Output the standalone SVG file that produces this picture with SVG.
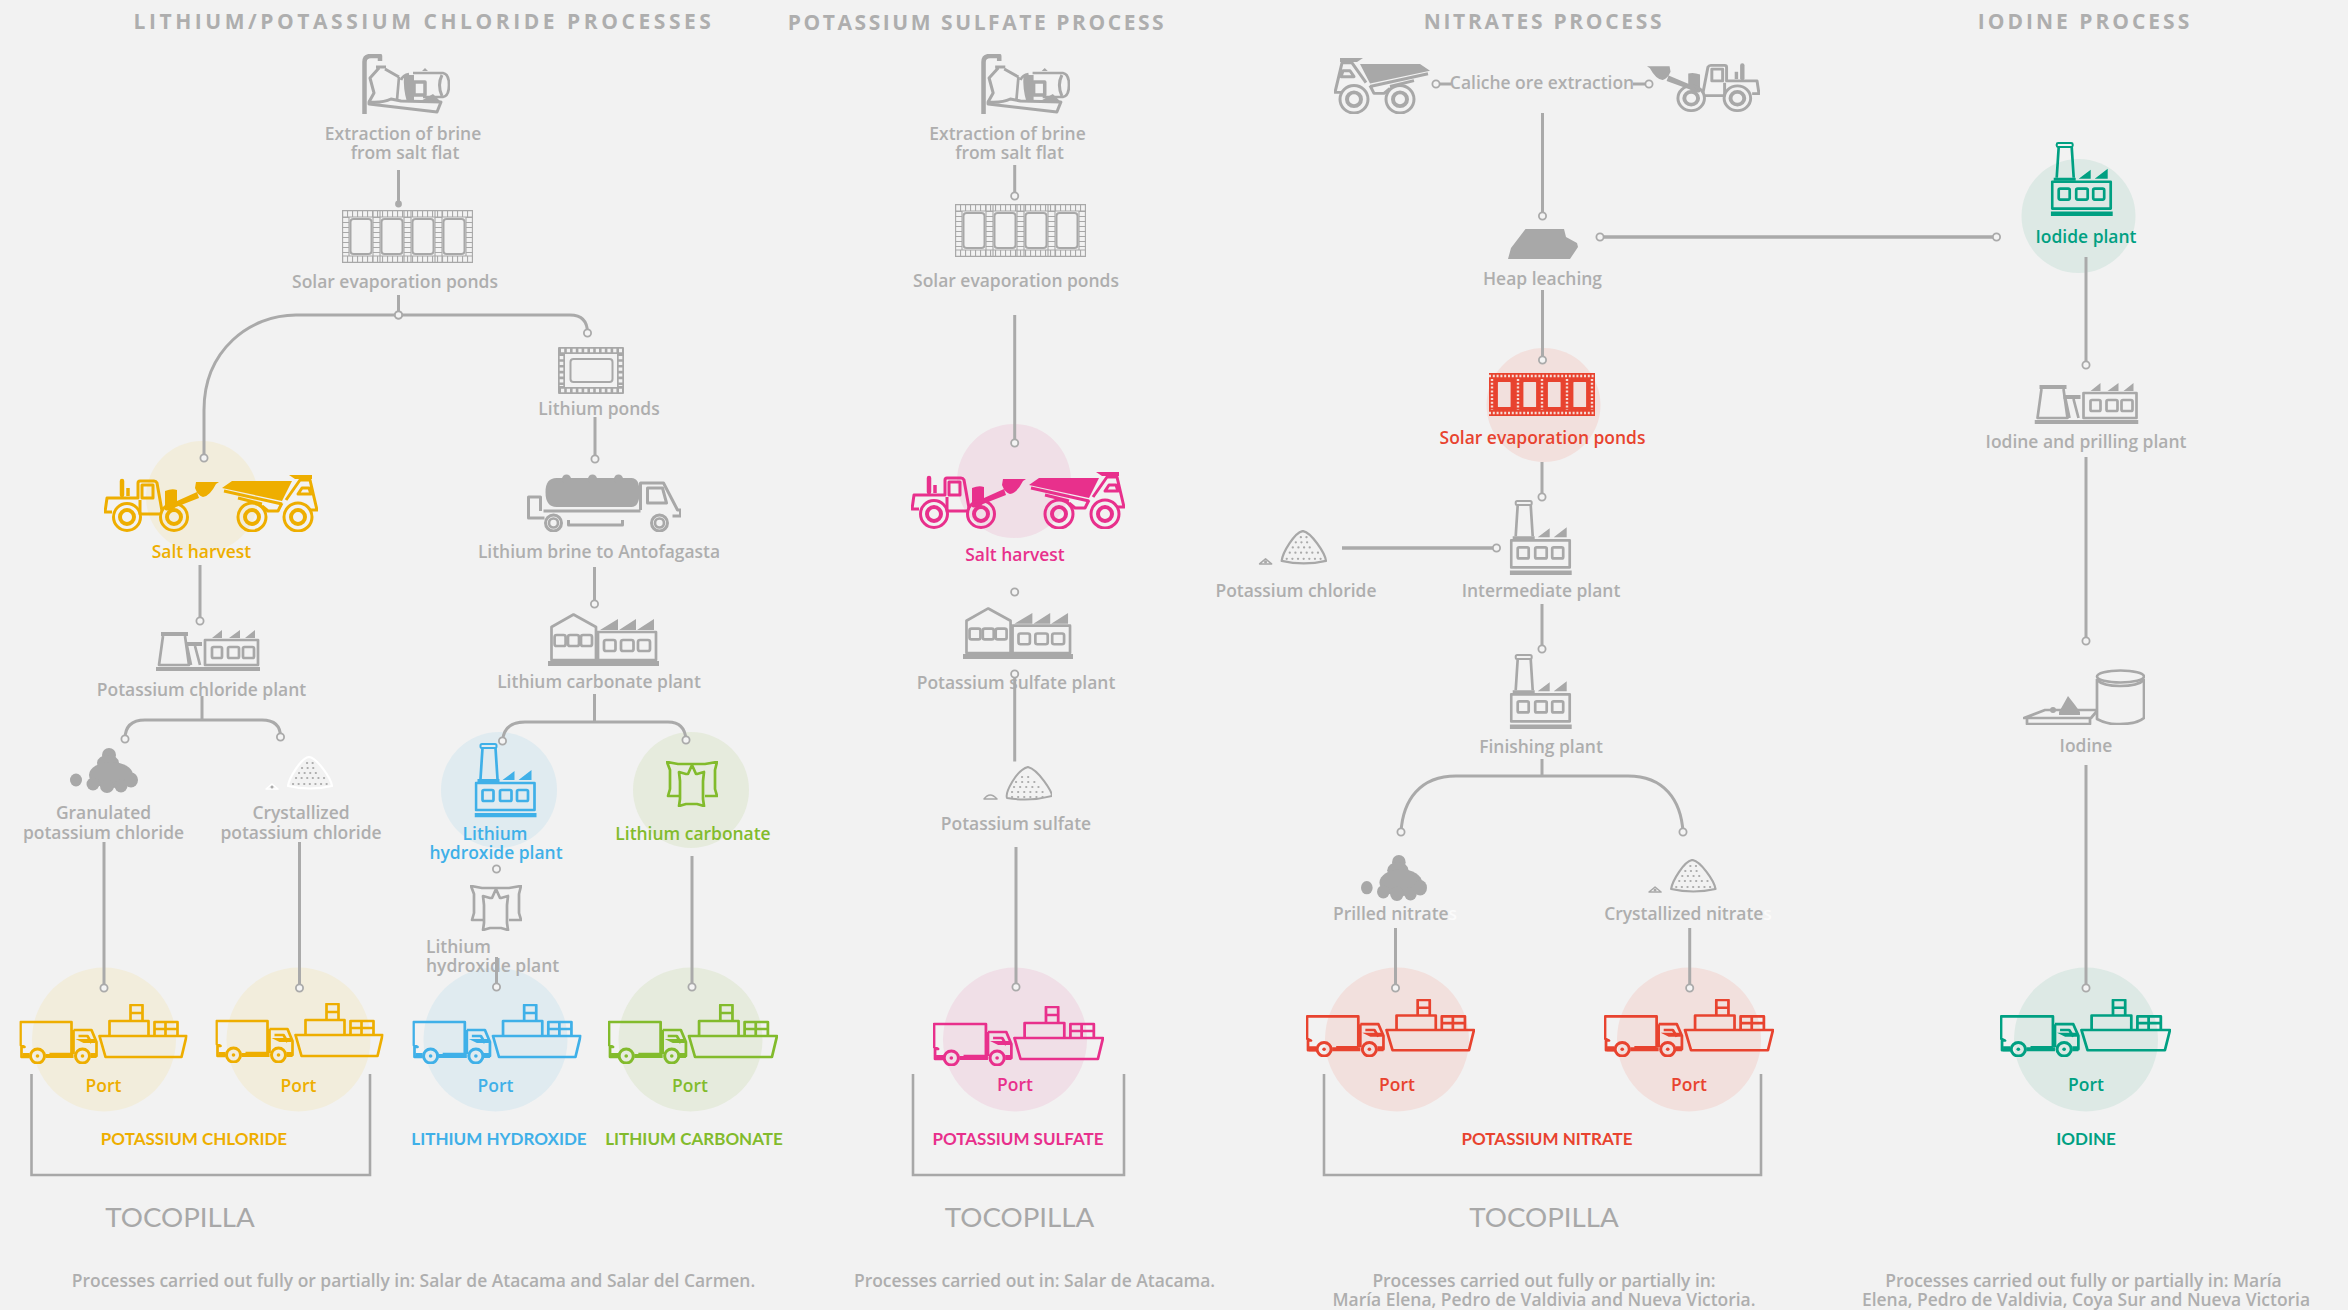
<svg xmlns="http://www.w3.org/2000/svg" width="2348" height="1310" viewBox="0 0 2348 1310">
<style>
text{font-family:"Open Sans","Noto Sans","Liberation Sans",sans-serif;font-weight:600;font-size:17.45px;fill:#aeaeae;text-anchor:middle}
.t{font-weight:700;font-size:21px;letter-spacing:3px}
.b{font-family:Lato,"Open Sans",sans-serif;font-weight:700;font-size:17px}
.c{font-family:Lato,"Open Sans",sans-serif;font-weight:400;font-size:27.700px;fill:#a8a8a8}
.o{fill:none;stroke:currentColor;stroke-width:2.7;stroke-linejoin:round}
.f{fill:currentColor;stroke:none}
.g{color:#a8a8a8}
.l{fill:none;stroke:#aaa;stroke-width:3}
.h{stroke-width:3.6}
.br{fill:none;stroke:#a8a8a8;stroke-width:2.6}
.dot{fill:#f4f4f4;stroke:#aaa;stroke-width:1.8}
.y{color:#eeae00}.yt{fill:#eeae00}
.p{color:#e8308c}.pt{fill:#e8308c}
.u{color:#3fb0e8}.ut{fill:#3fb0e8}
.n{color:#82bb2c}.nt{fill:#82bb2c}
.r{color:#e8432f}.rt{fill:#e8432f}
.e{color:#00a082}.et{fill:#00a082}
.hy{fill:#f2eddc}.hp{fill:#f0dfe7}.hu{fill:#e0ebf0}.hn{fill:#e6ebdd}.hr{fill:#f2e0dd}.he{fill:#dde9e5}
</style>
<defs>
<marker id="m" markerUnits="userSpaceOnUse" markerWidth="12" markerHeight="12" refX="6" refY="6" overflow="visible"><circle class="dot" cx="6" cy="6" r="3.6"/></marker>
<marker id="mf" markerUnits="userSpaceOnUse" markerWidth="12" markerHeight="12" refX="6" refY="6"><circle cx="6" cy="6" r="3.4" fill="#aaa"/></marker>
<symbol id="pump" viewBox="0 0 89 60" preserveAspectRatio="none">
<path class="o" style="stroke-width:4.500" d="M3.500,60V8Q3.500,2 10,2H19V7"/>
<path class="o" style="stroke-width:3" d="M15,13H25M18,14L9,24L13,39L8,48M24,15L38,23"/>
<path class="o" d="M38,23L36,46M48,20Q42,21 40,26M52,19H82Q88,20 88,31Q88,42 82,43H62"/>
<path class="o" style="stroke-width:3" d="M81,21Q76,31 81,42"/>
<path class="f" d="M43,21H53V48H46Q42,35 43,21ZM64,14L67,17H61Z"/>
<path class="o" style="stroke-width:3.500" d="M53,28H64V41H53Z"/>
<path class="f" d="M58,48L72,40L80,48Z"/>
<path class="o" style="stroke-width:3" d="M8,48Q22,49 30,45L40,47L80,48L76,58L8,50Z"/>
</symbol>
<symbol id="ponds" viewBox="0 0 131 53" preserveAspectRatio="none">
<g class="o" style="stroke-width:1.1"><rect x=".6" y=".6" width="129.800" height="51.800"/><path d="M0,7H131M0,46H131M7,7V46M31,0V53M38,0V53M62,0V53M69,0V53M93,0V53M100,0V53M124,7V46"/></g>
<path class="o" style="stroke-width:7;stroke-dasharray:1.1 3.900;stroke-linejoin:miter" d="M0,3.500H131M0,49.500H131M3.500,7V46M34.500,7V46M65.500,7V46M96.500,7V46M127.500,7V46"/>
<g class="o" style="stroke-width:2"><rect x="8.500" y="9" width="21" height="35" rx="3"/><rect x="39.500" y="9" width="21" height="35" rx="3"/><rect x="70.500" y="9" width="21" height="35" rx="3"/><rect x="101.500" y="9" width="21" height="35" rx="3"/></g>
</symbol>
<symbol id="pondsred" viewBox="0 0 106 43" preserveAspectRatio="none">
<rect class="f" width="106" height="43"/>
<path fill="none" stroke="#f6dcd6" stroke-width="2.400" stroke-dasharray="2 1.800" d="M0,3H106M0,40H106M3,6V37M29,6V37M53,6V37M78,6V37M103,6V37"/>
<g fill="#f2e0dd" stroke="currentColor" stroke-width="2.800"><rect x="7.500" y="7.500" width="15.500" height="28" rx="2"/><rect x="33" y="7.500" width="15.500" height="28" rx="2"/><rect x="57.500" y="7.500" width="15.500" height="28" rx="2"/><rect x="83" y="7.500" width="15.500" height="28" rx="2"/></g>
</symbol>
<symbol id="lipond" viewBox="0 0 66 47" preserveAspectRatio="none">
<rect class="f" width="66" height="47" rx="1"/>
<rect x="7" y="7" width="52" height="33" fill="#f2f2f2"/>
<path fill="none" stroke="#f2f2f2" stroke-width="3.600" stroke-dasharray="3.200 2.600" d="M3,3.500H64M3,43.500H64M3.500,9V39M62.500,9V39"/>
<rect class="o" style="stroke-width:2" x="12.500" y="12" width="42" height="23" rx="3"/>
</symbol>
<symbol id="loader" viewBox="0 0 116 58" preserveAspectRatio="none">
<path class="o" style="stroke-width:4.500;stroke-linecap:round" d="M18,7V21"/>
<path class="o" style="stroke-width:3.500" d="M24,14V22"/>
<path class="o" style="stroke-width:3" d="M8,38H1L3,24H34V9Q34,7 36,7H50Q52,7 53,9L58,37M36,26V40H56M38,11H49V24H38Z"/>
<path class="f" d="M61,36V17Q68,14 73,16V27L93,18L95,24L72,33Q66,38 61,36ZM92,8L115,8L112,10Q106,22 99,23Q94,22 91,14Z"/>
<g class="o"><circle cx="23" cy="43" r="13.500" style="stroke-width:3"/><circle cx="70" cy="43" r="13.500" style="stroke-width:3"/><circle cx="23" cy="43" r="7" style="stroke-width:4"/><circle cx="70" cy="43" r="7" style="stroke-width:4"/></g>
</symbol>
<symbol id="dump" viewBox="0 0 96 58" preserveAspectRatio="none">
<path class="f" d="M0,14L10,7H70L60,27ZM67,1H90V5H73Z"/>
<path class="o" style="stroke-width:3" d="M64,26L78,6H88L95,36H88M80,14H87L89,20H76ZM2,17L60,30M16,24L40,30M40,32L46,37H56L60,29"/>
<g class="o"><circle cx="30" cy="43" r="14" style="stroke-width:3"/><circle cx="76" cy="43" r="14" style="stroke-width:3"/><circle cx="30" cy="43" r="7" style="stroke-width:4"/><circle cx="76" cy="43" r="7" style="stroke-width:4"/></g>
</symbol>
<symbol id="tanker" viewBox="0 0 154.500 58" preserveAspectRatio="none">
<path class="f" d="M30,4H105Q113,4 113,18Q113,33 105,33H30Q19,33 19,18Q19,4 30,4Z"/>
<circle class="f" cx="40" cy="5" r="4.500"/><circle class="f" cx="66" cy="5" r="4.500"/><circle class="f" cx="92" cy="5" r="4.500"/>
<path class="o" style="stroke-width:3" d="M114,36V9H137L151,36H154V42H146M121,14H136L140,29H121ZM17,37H114M18,44H2V23H14V37M42,46V51H96V46"/>
<g class="o"><circle cx="27" cy="49" r="8" style="stroke-width:3"/><circle cx="133" cy="49" r="8" style="stroke-width:3"/><circle cx="27" cy="49" r="4.500"/><circle cx="133" cy="49" r="4.500"/></g>
</symbol>
<symbol id="coolplant" viewBox="0 0 104 41" preserveAspectRatio="none">
<path class="f" d="M5,2H32V6H5ZM29,12H46V16H29ZM0,37H104V41H0Z"/>
<path class="o" d="M7,6L3,35H33L29,6M31,16L35,35M39,16L44,35"/>
<path class="o" d="M49,35V10H102V35Z"/>
<path class="f" d="M56,8L66,0V8ZM73,8L84,0V8ZM89,8L99,0V8Z"/>
<g class="o"><rect x="56" y="17" width="10" height="11" rx="1.500"/><rect x="72" y="17" width="11" height="11" rx="1.500"/><rect x="87" y="17" width="11" height="11" rx="1.500"/></g>
</symbol>
<symbol id="houseplant" viewBox="0 0 111 53" preserveAspectRatio="none">
<path class="o" d="M3.500,47V14L25.500,1.500L48,14V47ZM50,47V19H108V47Z"/>
<path class="f" d="M52,17L70,6V17ZM71,17L88,6V17ZM89,17L106,6V17ZM0,48H111V53H0Z"/>
<g class="o"><rect x="6.600" y="22" width="11" height="11" rx="2"/><rect x="20" y="22" width="11" height="11" rx="2"/><rect x="33" y="22" width="11" height="11" rx="2"/><rect x="56" y="27" width="11.500" height="11" rx="2"/><rect x="73" y="27" width="12.500" height="11" rx="2"/><rect x="90" y="27" width="12" height="11" rx="2"/></g>
</symbol>
<symbol id="factory" viewBox="0 0 62.500 74.500" preserveAspectRatio="none">
<rect class="o" style="stroke-width:2" x="6" y="1" width="16" height="4" rx="1.500"/>
<path class="o" d="M8,5L6,36M21,5L23,36"/>
<path class="f" d="M3,36H25V39H3ZM28,37L40,28V37ZM44,37L57,27V37ZM0,70H62V74.500H0Z"/>
<path class="o" d="M1.500,40H60V67H1.500Z"/>
<g class="o"><rect x="8" y="47" width="11" height="11" rx="1.500"/><rect x="25.500" y="47" width="11.500" height="11" rx="1.500"/><rect x="42.500" y="47" width="11" height="11" rx="1.500"/></g>
</symbol>
<symbol id="bag" viewBox="0 0 52 46" preserveAspectRatio="none">
<path class="o" d="M13,35H2L4,28V9L1,1L12,3H39L51,1L49,9V28L51,35H39"/>
<path class="o" d="M13,11L20,13H22L26,4L30,13H31L38,11L37,20V38L38,45L31,43H20L13,45L14,38V20Z"/>
</symbol>
<symbol id="prill" viewBox="0 0 68 45" preserveAspectRatio="none">
<g class="f"><ellipse cx="6" cy="32" rx="6" ry="6.500"/><ellipse cx="39" cy="7" rx="7" ry="7"/><ellipse cx="38" cy="15" rx="11" ry="8"/><ellipse cx="41" cy="27" rx="22" ry="13"/><circle cx="23" cy="36" r="6.500"/><circle cx="37" cy="38" r="7"/><circle cx="51" cy="38" r="6.500"/><ellipse cx="61" cy="32" rx="7" ry="7.500"/></g>
</symbol>
<symbol id="pile" viewBox="0 0 69 35" preserveAspectRatio="none">
<path class="o" style="stroke-width:2.200" d="M23,30C24,22 36,2 44,1C52,2 66,22 67,30Q45,35 23,30Z"/>
<path class="o" style="stroke-width:1.500" d="M1,33L7,28L13,33Z"/>
<path fill="none" stroke="#aaa" stroke-width="2.200" stroke-linecap="round" stroke-dasharray=".1 5.500" d="M42,7H48M37,12H52M34,17H56M31,22H60M28,28H62"/>
<circle cx="7" cy="31" r="1.500" fill="#aaa"/>
</symbol>
<symbol id="pile2" viewBox="0 0 69 35" preserveAspectRatio="none">
<path class="o" style="stroke-width:2" d="M24,32C22,27 33,4 45,1C56,4 69,26 69,30Q46,36 24,32Z"/>
<path class="o" style="stroke-width:1.500" d="M1,33Q7,25 14,33Z"/>
<path fill="none" stroke="#aaa" stroke-width="2.200" stroke-linecap="round" stroke-dasharray=".1 6" d="M39,11H50M33,16H56M31,21H60M29,26H64M29,31H62"/>
</symbol>
<symbol id="heap" viewBox="0 0 70 30" preserveAspectRatio="none">
<path class="f" d="M17.500,0H56L58,8L69,14L70,18L62,30H0L3,19Z"/>
</symbol>
<symbol id="iodine" viewBox="0 0 122 56" preserveAspectRatio="none">
<ellipse class="o" cx="97.500" cy="7.500" rx="23.500" ry="6"/>
<path class="o" d="M74,11Q80,17 97,17Q115,17 121,11"/>
<path class="o" d="M74,10V50Q85,56 97,55Q114,55 121,49V10"/>
<path class="o" d="M74,41H22L1,49H68L74,42M4,49V55H67V49"/>
<path class="f" d="M45,27L52,36L57,43V46H36V43L40,36Z"/>
<circle class="f" cx="30" cy="41" r="3"/>
</symbol>
<symbol id="port" viewBox="0 0 168 60" preserveAspectRatio="none">
<path class="o" d="M10,53H2V43H5L1,41V18H52V50M54,26H72L77,38V52H73M54,26V50M59,32H68L72,39M30,50H52"/>
<path class="f" d="M3,49H10V54H3ZM26,50H54V54H26ZM56,35H76V39H64ZM71,49H77V54H71Z"/>
<g class="o" style="stroke-width:3"><circle cx="18" cy="52" r="7"/><circle cx="63" cy="52" r="7"/></g>
<g class="f"><circle cx="18" cy="52" r="1.800"/><circle cx="63" cy="52" r="1.800"/></g>
<path class="o" d="M80,32H167L162,53H86ZM90,32V17H129V32M111,17V1H123V17M111,9H123M135,32V18H158V32M135,25H158M146,18V32"/>
</symbol>
</defs>
<rect width="2348" height="1310" fill="#f2f2f2"/>
<g id="titles">
<text class="t" x="424" y="29" style="letter-spacing:3.550px">LITHIUM/POTASSIUM CHLORIDE PROCESSES</text>
<text class="t" x="977" y="30" style="letter-spacing:2.560px">POTASSIUM SULFATE PROCESS</text>
<text class="t" x="1544" y="29" style="letter-spacing:2.700px">NITRATES PROCESS</text>
<text class="t" x="2085" y="29">IODINE PROCESS</text>
</g>
<g id="n-brine-1" class="g"><use href="#pump" x="361" y="54" width="89" height="60"/><text x="403" y="140">Extraction of brine</text><text x="405" y="159">from salt flat</text></g>
<g id="n-ponds-1" class="g"><use href="#ponds" x="342" y="210" width="131" height="53"/><text x="395" y="288">Solar evaporation ponds</text></g>
<g id="n-lithium-ponds" class="g"><use href="#lipond" x="558" y="347" width="66" height="47"/><text x="599" y="415">Lithium ponds</text></g>
<g id="n-salt-1" class="y"><circle class="hy" cx="202" cy="497" r="56"/><use href="#loader" x="104" y="474" width="116" height="58"/><use href="#dump" x="222" y="474" width="96" height="58"/><text class="yt" x="201.500" y="558">Salt harvest</text></g>
<g id="n-tanker" class="g"><use href="#tanker" x="526.500" y="474" width="154.500" height="58"/><text x="599" y="558">Lithium brine to Antofagasta</text></g>
<g id="n-kcl-plant" class="g"><use href="#coolplant" x="156" y="630" width="104" height="41"/><text x="201.500" y="696">Potassium chloride plant</text></g>
<g id="n-li2co3-plant" class="g"><use href="#houseplant" x="548" y="613" width="111" height="53"/><text x="599" y="688">Lithium carbonate plant</text></g>
<g id="n-gran" class="g"><use href="#prill" x="70" y="748" width="68" height="45"/><text x="103.500" y="819">Granulated</text><text x="103.500" y="839">potassium chloride</text></g>
<g id="n-cryst" style="color:#fff"><use href="#pile" x="265" y="756" width="69" height="35"/><text x="301" y="819">Crystallized</text><text x="301" y="839">potassium chloride</text></g>
<g id="n-lioh-plant" class="u"><circle class="hu" cx="499" cy="790" r="58"/><use href="#factory" x="474.500" y="743" width="62.500" height="74.500"/><text class="ut" x="495" y="840">Lithium</text><text class="ut" x="496" y="859">hydroxide plant</text></g>
<g id="n-li2co3" class="n"><circle class="hn" cx="691" cy="790" r="58"/><use href="#bag" x="666" y="761" width="52" height="46"/><text class="nt" x="693" y="840">Lithium carbonate</text></g>
<g id="n-port-1" class="y"><circle class="hy" cx="104" cy="1039.500" r="72"/><use href="#port" x="19.500" y="1004" width="168" height="60"/><text class="yt" x="103.500" y="1092">Port</text></g>
<g id="n-port-2" class="y"><circle class="hy" cx="298.500" cy="1039.500" r="72"/><use href="#port" x="215.500" y="1003" width="168" height="60"/><text class="yt" x="298.500" y="1092">Port</text></g>
<g id="n-port-3" class="u"><circle class="hu" cx="495.500" cy="1039.500" r="72"/><use href="#port" x="412.500" y="1004" width="169" height="60"/><text class="ut" x="495.500" y="1092">Port</text></g>
<g id="n-lioh" class="g"><use href="#bag" x="470" y="885" width="52" height="46"/><text x="426" y="953" style="text-anchor:start">Lithium</text><text x="426" y="972" style="text-anchor:start">hydroxide plant</text></g>
<g id="n-port-4" class="n"><circle class="hn" cx="690.500" cy="1039.500" r="72"/><use href="#port" x="608" y="1004" width="170" height="60"/><text class="nt" x="690" y="1092">Port</text></g>
<g id="n-sum-1"><path class="br" d="M31.500,1074V1175H370V1074"/><text class="b yt" x="194" y="1145">POTASSIUM CHLORIDE</text><text class="c" x="180" y="1227">TOCOPILLA</text><text x="413.500" y="1287">Processes carried out fully or partially in: Salar de Atacama and Salar del Carmen.</text></g>
<text class="b ut" x="499" y="1145">LITHIUM HYDROXIDE</text>
<text class="b nt" x="694" y="1145">LITHIUM CARBONATE</text>

<g id="n-brine-2" class="g"><use href="#pump" x="980" y="54" width="90" height="60"/><text x="1007.500" y="140">Extraction of brine</text><text x="1009.500" y="159">from salt flat</text></g>
<g id="n-ponds-2" class="g"><use href="#ponds" x="955" y="204" width="131" height="53"/><text x="1016" y="287">Solar evaporation ponds</text></g>
<g id="n-salt-2" class="p"><circle class="hp" cx="1014" cy="481" r="57"/><use href="#loader" x="911" y="471" width="116" height="58"/><use href="#dump" x="1029" y="471" width="96" height="58"/><text class="pt" x="1015" y="561">Salt harvest</text></g>
<g id="n-k2so4-plant" class="g"><use href="#houseplant" x="963" y="607" width="110" height="52"/><text x="1016" y="689">Potassium sulfate plant</text></g>
<g id="n-k2so4" class="g"><use href="#pile2" x="983" y="766" width="69" height="35"/><text x="1016" y="830">Potassium sulfate</text></g>
<g id="n-port-5" class="p"><circle class="hp" cx="1015" cy="1039.500" r="72"/><use href="#port" x="933" y="1006" width="171" height="60"/><text class="pt" x="1015" y="1091">Port</text></g>
<g id="n-sum-2"><path class="br" d="M913,1074V1175H1124V1074"/><text class="b pt" x="1018" y="1145">POTASSIUM SULFATE</text><text class="c" x="1019.500" y="1227">TOCOPILLA</text><text x="1034.500" y="1287">Processes carried out in: Salar de Atacama.</text></g>

<g id="n-caliche" class="g"><use href="#dump" transform="translate(1430,57) scale(-1,.983)" width="96" height="58"/><use href="#loader" transform="translate(1760,59) scale(-.983,.914)" width="116" height="58"/><text x="1542" y="89">Caliche ore extraction</text></g>
<g id="n-heap" class="g"><use href="#heap" x="1508" y="229" width="70" height="30"/><text x="1542.500" y="285">Heap leaching</text></g>
<g id="n-ponds-3" class="r"><circle class="hr" cx="1543.500" cy="405" r="57"/><use href="#pondsred" x="1489" y="373" width="106" height="43"/><text class="rt" x="1542.500" y="444">Solar evaporation ponds</text></g>
<g id="n-kcl-3" class="g"><use href="#pile" x="1258.500" y="530" width="69.500" height="36"/><text x="1296" y="597">Potassium chloride</text></g>
<g id="n-intermediate" class="g"><use href="#factory" x="1509.700" y="500" width="62.500" height="75"/><text x="1541" y="597">Intermediate plant</text></g>
<g id="n-finishing" class="g"><use href="#factory" x="1509.700" y="654" width="62.500" height="75"/><text x="1541" y="753">Finishing plant</text></g>
<g id="n-prilled" class="g"><use href="#prill" x="1361" y="855" width="66" height="46"/><text x="1395" y="920">Prilled nitrate<tspan fill="#fbfbfb">s</tspan></text></g>
<g id="n-cryst-3" class="g"><use href="#pile" x="1648" y="859" width="69.500" height="35"/><text x="1688" y="920">Crystallized nitrate<tspan fill="#fbfbfb">s</tspan></text></g>
<g id="n-port-6" class="r"><circle class="hr" cx="1397" cy="1039.500" r="72"/><use href="#port" x="1306" y="999" width="169" height="58"/><text class="rt" x="1397" y="1091">Port</text></g>
<g id="n-port-7" class="r"><circle class="hr" cx="1689" cy="1039.500" r="72"/><use href="#port" x="1604" y="999" width="170" height="58"/><text class="rt" x="1689" y="1091">Port</text></g>
<g id="n-sum-3"><path class="br" d="M1324,1074V1175H1761V1074"/><text class="b rt" x="1547" y="1145">POTASSIUM NITRATE</text><text class="c" x="1544" y="1227">TOCOPILLA</text><text x="1544" y="1287">Processes carried out fully or partially in:</text><text x="1544" y="1306">María Elena, Pedro de Valdivia and Nueva Victoria.</text></g>

<g id="n-iodide" class="e"><circle class="he" cx="2078.500" cy="216" r="57"/><use href="#factory" x="2050.700" y="142" width="62.500" height="74"/><text class="et" x="2086" y="243">Iodide plant</text></g>
<g id="n-prilling" class="g"><use href="#coolplant" x="2034.500" y="383" width="104" height="41"/><text x="2086" y="448">Iodine and prilling plant</text></g>
<g id="n-iodine" class="g"><use href="#iodine" x="2023" y="669" width="122" height="56"/><text x="2086" y="752">Iodine</text></g>
<g id="n-port-8" class="e"><circle class="he" cx="2086" cy="1039.500" r="72"/><use href="#port" x="2000" y="999" width="171" height="58"/><text class="et" x="2086" y="1091">Port</text></g>
<g id="n-sum-4"><text class="b et" x="2086" y="1145">IODINE</text><text x="2083.500" y="1287">Processes carried out fully or partially in: María</text><text x="2086" y="1306">Elena, Pedro de Valdivia, Coya Sur and Nueva Victoria</text></g>

<g id="connectors" marker-end="url(#m)">
<path class="l" marker-end="url(#mf)" d="M398.500,170V204"/>
<path class="l" d="M398.500,295V315"/>
<path class="l" marker-end="none" d="M204,458V410C204,350 250,315 296,315H570Q587.500,315 587.500,333"/>
<path class="l" d="M595,417V459"/>
<path class="l" d="M200,565V621"/>
<path class="l" d="M594.500,567V604"/>
<path class="l" marker-end="none" d="M202,696V720"/>
<path class="l" marker-end="none" d="M125,739Q125,720 145,720H262Q280.500,720 280.500,737"/>
<path class="l" marker-end="none" d="M594.500,694V722"/>
<path class="l" marker-end="none" d="M502.500,741Q504,722 525,722H668Q685,722 686,740"/>
<path class="l" d="M104,842V988"/>
<path class="l" d="M299.500,842V988"/>
<path class="l" d="M692,856V987"/>
<path class="l" d="M496.500,957V987"/>
<path class="l" d="M1014.700,165V196"/>
<path class="l" d="M1014.700,315V443"/>
<path class="l" marker-end="none" d="M1014.700,761.500V674"/>
<path class="l" d="M1016,847V987"/>
<path class="l" d="M1542.500,113V216"/>
<path class="l h" marker-end="none" d="M1600,237H1996.500"/>
<path class="l" d="M1542.500,290V360"/>
<path class="l" d="M1542,462V497"/>
<path class="l h" d="M1342,548H1496.500"/>
<path class="l" d="M1542,604V649"/>
<path class="l" marker-end="none" d="M1542,759V776"/>
<path class="l" marker-end="none" d="M1401,832C1403,800 1420,776 1456,776H1628C1664,776 1681,800 1683,832"/>
<path class="l" d="M1395.500,928V988"/>
<path class="l" d="M1689.700,928V988"/>
<path class="l" marker-end="none" d="M1451.500,84H1436"/>
<path class="l" marker-end="none" d="M1633,84H1649"/>
<path class="l" d="M2086,257V365"/>
<path class="l" d="M2086,457V641"/>
<path class="l" d="M2086,765V988"/>
<g fill="#f4f4f4" stroke="#aaa" stroke-width="1.800"><circle cx="398.500" cy="315" r="3.600"/><circle cx="204" cy="458" r="3.600"/><circle cx="587.500" cy="333" r="3.600"/><circle cx="125" cy="739" r="3.600"/><circle cx="280.500" cy="737" r="3.600"/><circle cx="502.500" cy="741" r="3.600"/><circle cx="686" cy="740" r="3.600"/><circle cx="496.500" cy="869" r="3.600"/><circle cx="1014.700" cy="592" r="3.600"/><circle cx="1014.700" cy="674" r="3.600"/><circle cx="1600" cy="237" r="3.600"/><circle cx="1996.500" cy="237" r="3.600"/><circle cx="1401" cy="832" r="3.600"/><circle cx="1683" cy="832" r="3.600"/><circle cx="1436" cy="84" r="3.600"/><circle cx="1649" cy="84" r="3.600"/></g>
</g>
</svg>
